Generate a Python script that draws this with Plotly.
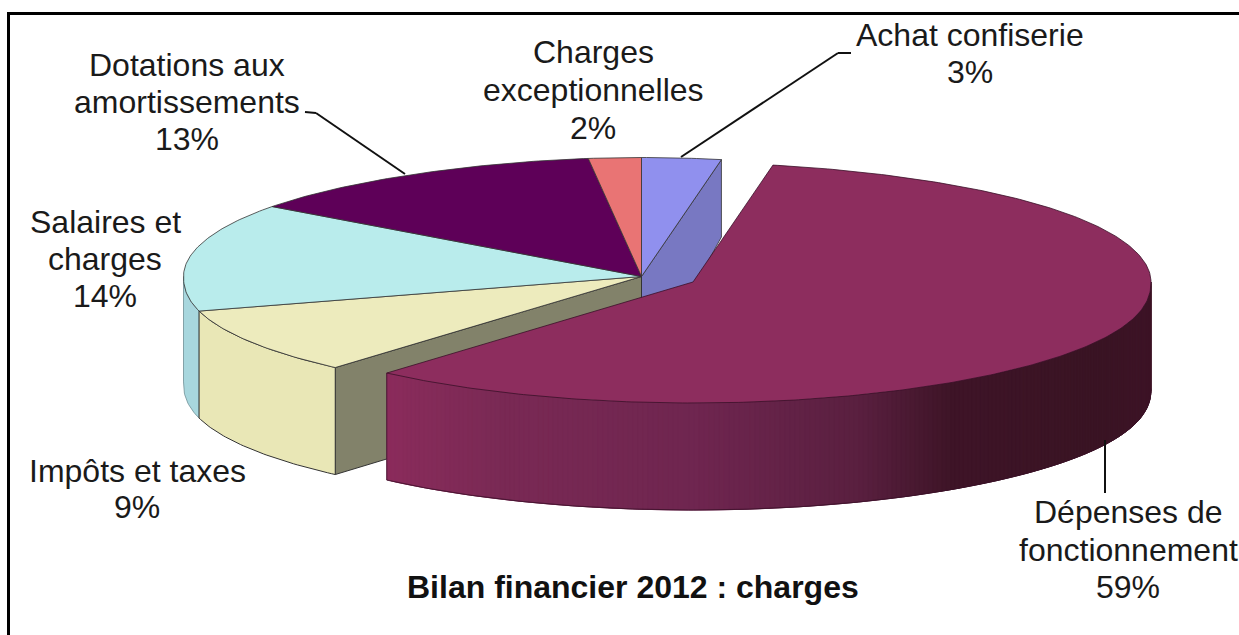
import math
import plotly.graph_objects as go

# ---- data, clockwise from the top of the pie ----
categories = ["Achat confiserie", "Dépenses de fonctionnement", "Impôts et taxes",
              "Salaires et charges", "Dotations aux amortissements", "Charges exceptionnelles"]
values = [3, 59, 9, 14, 13, 2]
label_lines = [["Achat confiserie"], ["Dépenses de", "fonctionnement"], ["Impôts et taxes"],
               ["Salaires et", "charges"], ["Dotations aux", "amortissements"],
               ["Charges", "exceptionnelles"]]
title_text = "Bilan financier 2012 : charges"

# ---- styles and layout ----
top_colors = ["#9090EE", "#8D2D5E", "#EDEBBD", "#B9ECEC", "#5E0058", "#E97474"]
inner_blue = "#7878C2"
wall_yellow = "#E9E7B6"
wall_cyan = "#A8D7DE"
inner_wall = "#82826A"
edge = "#333333"
W, H = 1239, 635
CX, CY = 641.5, 276.5        # pie centre on the pixel-sized axes
EX, EY = 693, 282            # centre of the pulled-out slice
RX, RY_BACK, RY_FRONT = 458, 119, 121
PULLED = 1
label_pos = [(970, [35, 72]), (1128, [512, 550, 587]), (137, [471, 507]),
             (105, [222, 259, 296]), (187, [65, 102, 139]), (593, [52, 90, 128])]
grad_x = [388, 500, 700, 860, 950, 1100, 1152]
grad_c = [(139, 44, 92), (122, 42, 85), (111, 38, 80), (90, 32, 64), (63, 21, 40), (58, 20, 36), (63, 21, 40)]


def pt(cx, cy, deg):
    t = math.radians(deg)
    s, c = math.sin(t), math.cos(t)
    if c > 0:
        return cx + (RX - 35 * c ** 6) * s, cy - RY_BACK * c
    return cx + (RX - 20 * c * c) * s, cy + RY_FRONT * abs(c) ** 0.9


def depth(y):
    return min(107, 77 + 0.24 * (y - 158))


def arc(cx, cy, a, b, n=None):
    n = n or max(2, int(abs(b - a) * 1.5))
    return [pt(cx, cy, a + (b - a) * i / n) for i in range(n + 1)]


def grad(x):
    if x <= grad_x[0]:
        return grad_c[0]
    for i in range(len(grad_x) - 1):
        if x <= grad_x[i + 1]:
            f = (x - grad_x[i]) / (grad_x[i + 1] - grad_x[i])
            return tuple(grad_c[i][k] + (grad_c[i + 1][k] - grad_c[i][k]) * f for k in range(3))
    return grad_c[-1]


def rgb(c):
    return "rgb(%d,%d,%d)" % tuple(int(v) for v in c)


fig = go.Figure()


def poly(points, fill, line=edge, width=1.0):
    xs = [p[0] for p in points] + [points[0][0]]
    ys = [p[1] for p in points] + [points[0][1]]
    fig.add_trace(go.Scatter(x=xs, y=ys, mode="lines", fill="toself", fillcolor=fill,
                             line=dict(color=line, width=width), hoverinfo="skip", showlegend=False))


def wall(points, color, line=edge, width=1.0):
    bottom = [(x, y + depth(y)) for x, y in points]
    poly(points + bottom[::-1], color, line, width)


# slice angles from the values
total = sum(values)
angles = [0]
for v in values:
    angles.append(angles[-1] + v / total * 360)

c0 = (CX, CY)
# cut faces, then outer walls of the slices that stay in place
wall([c0, pt(CX, CY, angles[1])], inner_blue, width=0.8)
wall([c0, pt(CX, CY, angles[2])], inner_wall)
wall(arc(CX, CY, angles[3], 270), wall_cyan, line="#6f8f95", width=0.8)
wall(arc(CX, CY, angles[2], angles[3]), wall_yellow)
# top faces
for i in range(len(values)):
    if i != PULLED:
        poly([c0] + arc(CX, CY, angles[i], angles[i + 1]), top_colors[i], width=0.8)

# pulled-out slice: gradient front wall, then top
a, b = angles[1], angles[2]
n = 200
front = arc(EX, EY, 90, b, n)
for j in range(n - 1, -1, -1):
    p, q = front[j], front[max(j - 2, 0)]
    c = rgb(grad((p[0] + front[j + 1][0]) / 2))
    wall([front[j + 1], p, q], c, line=c, width=0.6)
fig.add_trace(go.Scatter(x=[p[0] for p in front], y=[p[1] + depth(p[1]) for p in front],
                         mode="lines", line=dict(color="#3a1028", width=0.8),
                         hoverinfo="skip", showlegend=False))
fig.add_trace(go.Scatter(x=[front[-1][0], front[-1][0]],
                         y=[front[-1][1], front[-1][1] + depth(front[-1][1])],
                         mode="lines", line=dict(color="#3a1028", width=0.8),
                         hoverinfo="skip", showlegend=False))
poly([(EX, EY)] + arc(EX, EY, a, b, 320), top_colors[PULLED], line="#3a1028", width=0.8)

# ---- layout ----
shapes = [
    dict(type="rect", xref="x", yref="y", x0=8.5, y0=13.5, x1=W + 10, y1=H + 10,
         line=dict(color="black", width=3), fillcolor="rgba(0,0,0,0)", layer="above"),
]
leaders = [[(305, 112), (316, 113), (405, 174)], [(681, 157), (838, 53), (851, 53)], [(1105, 440), (1105, 493)]]
for path in leaders:
    for (x0, y0), (x1, y1) in zip(path, path[1:]):
        shapes.append(dict(type="line", xref="x", yref="y", x0=x0, y0=y0, x1=x1, y1=y1,
                           line=dict(color="#111111", width=2), layer="above"))

annots = []
for lines, v, (lx, lys) in zip(label_lines, values, label_pos):
    for text, ly in zip(lines + [f"{v}%"], lys):
        annots.append(dict(x=lx, y=ly, xref="x", yref="y", text=text, showarrow=False,
                           xanchor="center", yanchor="middle",
                           font=dict(family="Liberation Sans", size=32, color="#1a1a1a")))
annots.append(dict(x=633, y=587, xref="x", yref="y", text=f"<b>{title_text}</b>", showarrow=False,
                   xanchor="center", yanchor="middle",
                   font=dict(family="Liberation Sans", size=32, color="#111111")))

fig.update_layout(
    width=W, height=H, margin=dict(l=0, r=0, t=0, b=0),
    paper_bgcolor="white", plot_bgcolor="white", showlegend=False,
    xaxis=dict(range=[0, W], visible=False, fixedrange=True),
    yaxis=dict(range=[H, 0], visible=False, fixedrange=True),
    shapes=shapes, annotations=annots,
)
fig.write_html("out.html", config={"displayModeBar": False},
               post_script="document.body.style.margin='0';")
